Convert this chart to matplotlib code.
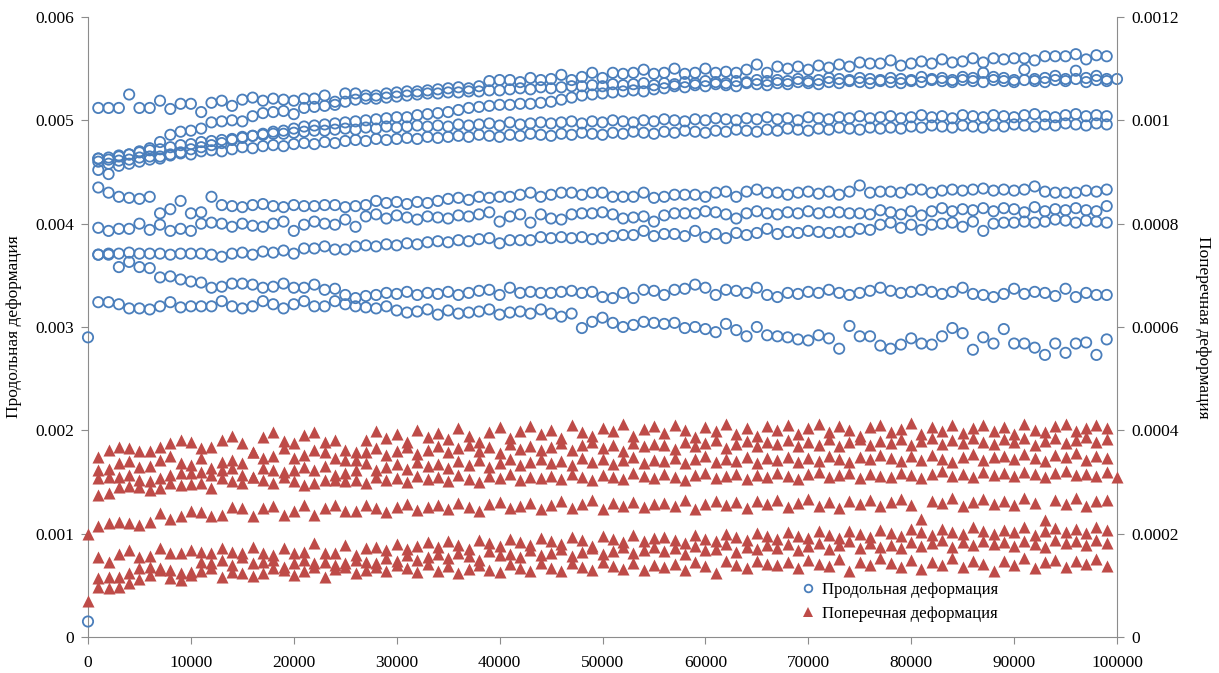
import numpy as np
import matplotlib.pyplot as plt
from matplotlib.lines import Line2D

# cycles, every 1000 from 1000 to 99000
cycles = np.arange(1000, 100000, 1000)

# longitudinal strain gauges, units of 1e-5
long_a = [512, 512, 512, 525, 512, 512, 519, 511, 516, 516, 508,
          517, 519, 514, 520, 522, 519, 521, 520, 519, 521, 521,
          524, 518, 526, 526, 524, 524, 526, 527, 528, 528, 529,
          530, 531, 532, 531, 533, 538, 539, 539, 537, 541, 539,
          540, 544, 539, 542, 546, 541, 546, 545, 546, 549, 545,
          546, 550, 545, 546, 550, 546, 547, 546, 549, 554, 546,
          552, 550, 552, 549, 553, 551, 554, 552, 556, 555, 555,
          558, 553, 555, 557, 555, 559, 556, 557, 560, 556, 560,
          559, 560, 560, 558, 562, 562, 562, 564, 559, 563, 562]
long_b = [463, 464, 465, 467, 470, 473, 479, 486, 489, 490, 492,
          498, 499, 500, 499, 504, 507, 508, 509, 506, 512, 513,
          514, 515, 518, 520, 521, 521, 522, 523, 524, 525, 526,
          526, 527, 527, 528, 528, 529, 529, 530, 531, 530, 532,
          531, 532, 533, 533, 534, 533, 535, 534, 535, 536, 534,
          536, 535, 537, 536, 538, 537, 536, 538, 537, 539, 538,
          539, 538, 540, 538, 539, 541, 540, 539, 541, 540, 539,
          541, 540, 539, 542, 540, 541, 539, 542, 541, 546, 542,
          541, 539, 549, 540, 541, 543, 540, 548, 541, 543, 540]
long_c = [452, 448, 456, 458, 460, 462, 465, 467, 469, 472, 474,
          476, 478, 481, 483, 485, 487, 489, 490, 492, 494, 495,
          496, 497, 498, 499, 500, 501, 502, 503, 503, 505, 506,
          507, 508, 510, 512, 513, 514, 515, 515, 516, 516, 517,
          518, 520, 522, 524, 525, 526, 527, 528, 529, 528, 530,
          531, 533, 532, 534, 533, 535, 534, 533, 536, 535, 534,
          536, 535, 537, 536, 535, 537, 536, 538, 537, 536, 538,
          537, 536, 538, 537, 539, 538, 537, 539, 538, 537, 539,
          538, 537, 539, 538, 537, 539, 538, 540, 537, 539, 538]
long_d = [463, 462, 466, 467, 469, 471, 472, 474, 476, 477, 479,
          480, 481, 482, 484, 485, 486, 487, 487, 488, 489, 490,
          490, 491, 492, 491, 493, 492, 494, 493, 494, 495, 494,
          495, 494, 496, 495, 496, 497, 495, 498, 496, 497, 498,
          497, 498, 499, 497, 499, 498, 500, 499, 498, 500, 499,
          501, 500, 499, 501, 500, 502, 501, 500, 502, 501, 503,
          501, 502, 500, 503, 502, 501, 503, 502, 504, 502, 503,
          504, 502, 503, 505, 503, 504, 502, 505, 504, 503, 505,
          504, 503, 505, 506, 504, 503, 505, 506, 504, 505, 504]
long_e = [460, 458, 461, 462, 464, 465, 463, 466, 468, 467, 470,
          471, 470, 472, 474, 473, 475, 476, 475, 477, 478, 477,
          479, 478, 480, 481, 480, 482, 481, 482, 483, 482, 484,
          483, 484, 485, 484, 486, 485, 484, 486, 485, 487, 486,
          485, 487, 486, 488, 487, 486, 488, 487, 489, 488, 487,
          489, 488, 490, 489, 488, 490, 489, 491, 490, 489, 491,
          490, 492, 491, 490, 492, 491, 493, 492, 491, 493, 492,
          493, 492, 494, 493, 495, 494, 493, 495, 494, 493, 495,
          494, 496, 495, 494, 496, 495, 497, 496, 495, 497, 496]
long_f = [435, 430, 426, 425, 424, 426, 410, 414, 422, 410, 411,
          426, 418, 417, 416, 418, 419, 417, 416, 418, 417, 417,
          418, 418, 416, 417, 418, 422, 420, 421, 419, 421, 420,
          422, 424, 425, 423, 426, 425, 426, 426, 428, 430, 426,
          428, 430, 430, 428, 430, 430, 426, 426, 426, 430, 425,
          426, 428, 428, 428, 426, 430, 431, 426, 431, 433, 430,
          430, 428, 430, 431, 429, 431, 428, 431, 437, 430, 431,
          431, 430, 433, 433, 430, 432, 433, 432, 433, 434, 432,
          433, 432, 433, 436, 431, 430, 430, 430, 432, 431, 433]
long_g = [396, 393, 395, 395, 400, 394, 399, 393, 395, 393, 400,
          401, 400, 397, 400, 398, 397, 400, 402, 393, 399, 402,
          400, 399, 404, 397, 407, 409, 405, 408, 406, 404, 407,
          406, 405, 408, 407, 409, 411, 402, 407, 409, 401, 409,
          405, 404, 409, 410, 410, 411, 409, 405, 406, 407, 402,
          408, 410, 410, 410, 412, 411, 409, 405, 410, 412, 410,
          409, 411, 410, 412, 410, 411, 411, 410, 410, 409, 413,
          411, 409, 412, 408, 412, 415, 412, 414, 413, 415, 412,
          415, 414, 411, 416, 412, 414, 413, 415, 413, 412, 417]
long_h = [370, 371, 371, 372, 371, 371, 371, 370, 371, 371, 371,
          370, 368, 371, 372, 370, 373, 372, 374, 371, 376, 376,
          378, 375, 375, 378, 379, 378, 380, 379, 381, 380, 382,
          383, 382, 384, 383, 385, 386, 381, 384, 384, 384, 387,
          386, 387, 386, 387, 385, 386, 388, 389, 389, 393, 388,
          390, 390, 388, 393, 387, 390, 386, 391, 389, 391, 395,
          390, 392, 391, 393, 392, 391, 392, 392, 395, 394, 399,
          401, 396, 399, 394, 399, 400, 401, 397, 402, 393, 400,
          401, 401, 402, 401, 402, 404, 403, 401, 403, 402, 401]
long_i = [370, 370, 358, 363, 358, 357, 348, 349, 346, 344, 343,
          338, 339, 342, 342, 341, 338, 339, 342, 338, 338, 341,
          336, 337, 331, 328, 330, 331, 333, 332, 334, 331, 333,
          332, 334, 331, 333, 335, 336, 331, 338, 333, 334, 333,
          333, 334, 335, 333, 334, 329, 328, 333, 328, 336, 335,
          331, 336, 337, 341, 338, 331, 336, 335, 333, 338, 331,
          329, 333, 332, 334, 333, 336, 333, 331, 333, 335, 338,
          335, 333, 334, 336, 334, 332, 334, 338, 332, 331, 329,
          332, 337, 332, 334, 333, 330, 337, 329, 333, 331, 331]
long_j = [324, 324, 322, 318, 318, 317, 320, 324, 319, 320, 320,
          320, 325, 320, 318, 320, 325, 322, 318, 322, 325, 320,
          320, 325, 322, 320, 319, 318, 320, 316, 314, 315, 317,
          312, 316, 313, 314, 315, 317, 312, 314, 315, 313, 317,
          313, 310, 313, 299, 305, 309, 304, 300, 302, 305, 304,
          303, 304, 299, 300, 298, 295, 303, 297, 291, 300, 292,
          291, 290, 288, 287, 292, 289, 279, 301, 291, 291, 282,
          279, 283, 289, 284, 283, 291, 299, 294, 278, 290, 284,
          298, 284, 284, 280, 273, 284, 275, 284, 285, 273, 288]

# transverse strain gauges, units of 1e-6
trans_a = [349, 362, 368, 365, 360, 360, 367, 375, 381, 378, 365,
           368, 381, 389, 375, 359, 387, 396, 380, 375, 391, 397,
           378, 381, 362, 359, 381, 399, 385, 392, 378, 401, 388,
           395, 383, 404, 390, 378, 396, 407, 386, 399, 409, 392,
           401, 385, 410, 396, 389, 405, 398, 412, 390, 403, 408,
           395, 411, 400, 387, 406, 398, 413, 392, 404, 389, 409,
           400, 410, 393, 405, 412, 396, 408, 401, 389, 407, 411,
           397, 403, 414, 392, 406, 399, 410, 395, 404, 411, 398,
           407, 393, 412, 401, 396, 408, 413, 399, 405, 410, 404]
trans_b = [323, 325, 336, 341, 329, 331, 343, 350, 336, 333, 346,
           327, 339, 343, 336, 359, 346, 350, 365, 346, 352, 362,
           359, 346, 343, 343, 359, 365, 352, 360, 368, 355, 362,
           370, 358, 365, 372, 360, 368, 356, 374, 363, 370, 361,
           368, 375, 362, 371, 378, 365, 372, 360, 376, 369, 374,
           371, 363, 378, 369, 375, 382, 366, 374, 379, 370, 377,
           374, 381, 369, 377, 372, 384, 370, 378, 383, 372, 380,
           376, 384, 371, 379, 386, 373, 381, 376, 385, 378, 374,
           383, 377, 386, 372, 380, 385, 375, 382, 388, 377, 384]
trans_c = [307, 309, 310, 314, 304, 301, 307, 314, 318, 317, 320,
           314, 323, 327, 314, 310, 327, 323, 320, 323, 330, 323,
           331, 314, 317, 323, 336, 323, 329, 334, 326, 338, 331,
           335, 328, 340, 333, 342, 330, 337, 344, 332, 339, 345,
           336, 341, 333, 347, 339, 344, 335, 342, 348, 337, 343,
           340, 346, 336, 344, 350, 338, 345, 341, 349, 337, 346,
           343, 349, 339, 347, 341, 351, 344, 338, 348, 345, 352,
           346, 340, 350, 343, 352, 345, 339, 349, 354, 342, 348,
           351, 344, 355, 347, 341, 352, 348, 356, 343, 350, 346]
trans_d = [275, 278, 291, 292, 291, 285, 288, 298, 294, 296, 298,
           288, 307, 301, 298, 310, 304, 298, 310, 301, 294, 298,
           304, 304, 301, 304, 298, 310, 303, 307, 300, 311, 305,
           309, 302, 313, 306, 300, 311, 308, 315, 304, 310, 307,
           312, 305, 316, 309, 303, 314, 310, 306, 317, 311, 308,
           315, 309, 303, 313, 318, 307, 312, 316, 305, 314, 310,
           317, 311, 306, 315, 320, 309, 314, 318, 308, 316, 312,
           310, 318, 313, 307, 316, 321, 311, 315, 309, 319, 314,
           318, 312, 320, 315, 309, 317, 322, 313, 316, 311, 319]
trans_e = [214, 220, 223, 220, 217, 223, 240, 228, 234, 243, 241,
           234, 236, 252, 249, 234, 249, 254, 236, 243, 256, 236,
           249, 256, 243, 243, 256, 249, 241, 252, 258, 246, 251,
           255, 247, 260, 252, 244, 257, 262, 249, 254, 259, 248,
           256, 263, 250, 258, 265, 247, 259, 254, 262, 251, 257,
           260, 253, 266, 248, 258, 264, 255, 261, 250, 263, 257,
           265, 252, 259, 267, 254, 261, 249, 263, 258, 266, 253,
           262, 268, 255, 229, 264, 259, 270, 253, 261, 267, 257,
           264, 256, 269, 260, 226, 265, 258, 270, 254, 263, 266]
trans_f = [155, 146, 161, 168, 155, 156, 172, 162, 162, 168, 165,
           162, 172, 165, 162, 175, 162, 159, 172, 162, 165, 181,
           162, 162, 178, 159, 172, 175, 168, 180, 171, 177, 183,
           175, 186, 179, 170, 188, 181, 176, 190, 183, 178, 192,
           185, 180, 193, 187, 176, 195, 189, 183, 197, 186, 191,
           194, 188, 181, 198, 190, 185, 200, 193, 187, 201, 195,
           189, 203, 196, 191, 205, 198, 192, 206, 199, 194, 208,
           201, 195, 209, 203, 197, 210, 204, 199, 212, 206, 200,
           208, 203, 212, 198, 206, 211, 204, 209, 202, 213, 207]
trans_g = [114, 117, 117, 123, 133, 136, 133, 130, 123, 126, 146,
           143, 149, 139, 155, 144, 146, 149, 136, 144, 149, 144,
           146, 139, 143, 149, 146, 143, 152, 147, 158, 150, 155,
           160, 152, 163, 157, 149, 166, 158, 161, 154, 168, 159,
           163, 170, 157, 165, 172, 160, 167, 174, 162, 169, 175,
           166, 173, 161, 177, 168, 171, 180, 164, 175, 170, 178,
           172, 180, 168, 176, 182, 170, 178, 185, 173, 181, 175,
           179, 172, 184, 176, 181, 187, 174, 183, 178, 186, 180,
           183, 177, 186, 180, 174, 188, 182, 185, 179, 187, 181]
trans_h = [96, 94, 97, 104, 112, 120, 130, 114, 110, 120, 127,
           133, 117, 126, 124, 118, 123, 133, 130, 120, 128, 136,
           117, 131, 136, 123, 130, 136, 128, 140, 133, 126, 142,
           128, 137, 124, 132, 139, 130, 125, 141, 133, 128, 143,
           134, 128, 143, 136, 130, 146, 138, 132, 144, 129, 140,
           136, 142, 130, 145, 138, 124, 147, 140, 134, 148, 141,
           139, 146, 133, 149, 142, 137, 151, 128, 145, 140, 153,
           143, 136, 150, 131, 146, 140, 152, 135, 148, 142, 127,
           147, 139, 152, 134, 145, 150, 136, 148, 141, 151, 138]

# single readings at the start and the end of the test
long_end_x = [0, 0, 100000]
long_end_y = [0.0029, 0.00015, 0.0054]
trans_end_x = [0, 0, 100000]
trans_end_y = [0.0002, 0.00007, 0.00031]

long_ticks = [0, 0.001, 0.002, 0.003, 0.004, 0.005, 0.006]
long_tick_labels = ["0", "0.001", "0.002", "0.003", "0.004", "0.005", "0.006"]
trans_ticks = [0, 0.0002, 0.0004, 0.0006, 0.0008, 0.001, 0.0012]
trans_tick_labels = ["0", "0.0002", "0.0004", "0.0006", "0.0008", "0.001", "0.0012"]
cycle_ticks = list(range(0, 100001, 10000))

BLUE = "#4A7EBB"
RED = "#BE4B48"
GRAY = "#8C8C8C"

plt.rcParams['font.family'] = ['Liberation Serif', 'DejaVu Serif']
fig = plt.figure(figsize=(12.19, 6.73), dpi=100)
ax = fig.add_axes([88 / 1219, 36 / 673, 1029 / 1219, 620 / 673])
ax2 = ax.twinx()

for s in [long_a, long_b, long_c, long_d, long_e, long_f, long_g, long_h, long_i, long_j]:
    ax.scatter(cycles, np.array(s) * 1e-5, s=55, facecolors="none",
               edgecolors=BLUE, linewidths=1.3, clip_on=False, zorder=3)
ax.scatter(long_end_x, long_end_y, s=55, facecolors="none",
           edgecolors=BLUE, linewidths=1.3, clip_on=False, zorder=3)

for s in [trans_a, trans_b, trans_c, trans_d, trans_e, trans_f, trans_g, trans_h]:
    ax2.scatter(cycles, np.array(s) * 1e-6, s=75, marker="^", color=RED,
                linewidths=0, clip_on=False, zorder=3)
ax2.scatter(trans_end_x, trans_end_y, s=75, marker="^", color=RED,
            linewidths=0, clip_on=False, zorder=3)

ax.set_xlim(0, 100000)
ax.set_ylim(0, 0.006)
ax2.set_ylim(0, 0.0012)
ax.set_xticks(cycle_ticks)
ax.set_xticklabels([str(t) for t in cycle_ticks])
ax.set_yticks(long_ticks)
ax.set_yticklabels(long_tick_labels)
ax2.set_yticks(trans_ticks)
ax2.set_yticklabels(trans_tick_labels)

for a in (ax, ax2):
    a.spines["top"].set_visible(False)
    for side in ("left", "right", "bottom"):
        a.spines[side].set_color(GRAY)
    a.tick_params(direction="out", length=5, color=GRAY, labelsize=12.5,
                  labelcolor="black", pad=5)
ax.tick_params(axis="x", pad=8)
ax.spines["right"].set_visible(False)
ax2.spines["left"].set_visible(False)
ax2.spines["bottom"].set_visible(False)

ax.set_ylabel("Продольная деформация", fontsize=12.5, va="center")
ax.yaxis.set_label_coords(-0.0715, 0.5)
ax2.set_ylabel("Поперечная деформация", fontsize=12.5, rotation=-90, va="center")
ax2.yaxis.set_label_coords(1.0835, 0.5)

handles = [
    Line2D([], [], linestyle="none", marker="o", markersize=5.5,
           markerfacecolor="none", markeredgecolor=BLUE, markeredgewidth=1.3),
    Line2D([], [], linestyle="none", marker="^", markersize=6.5,
           color=RED, markeredgewidth=0),
]
ax2.legend(handles, ["Продольная деформация", "Поперечная деформация"],
           loc="upper left", bbox_to_anchor=(801 / 1219, 1 - 582 / 673),
           bbox_transform=fig.transFigure, frameon=False, fontsize=12,
           handlelength=0.8, handletextpad=0.45, labelspacing=0.45,
           borderpad=0, borderaxespad=0)

fig.savefig("out.png", dpi=100)
